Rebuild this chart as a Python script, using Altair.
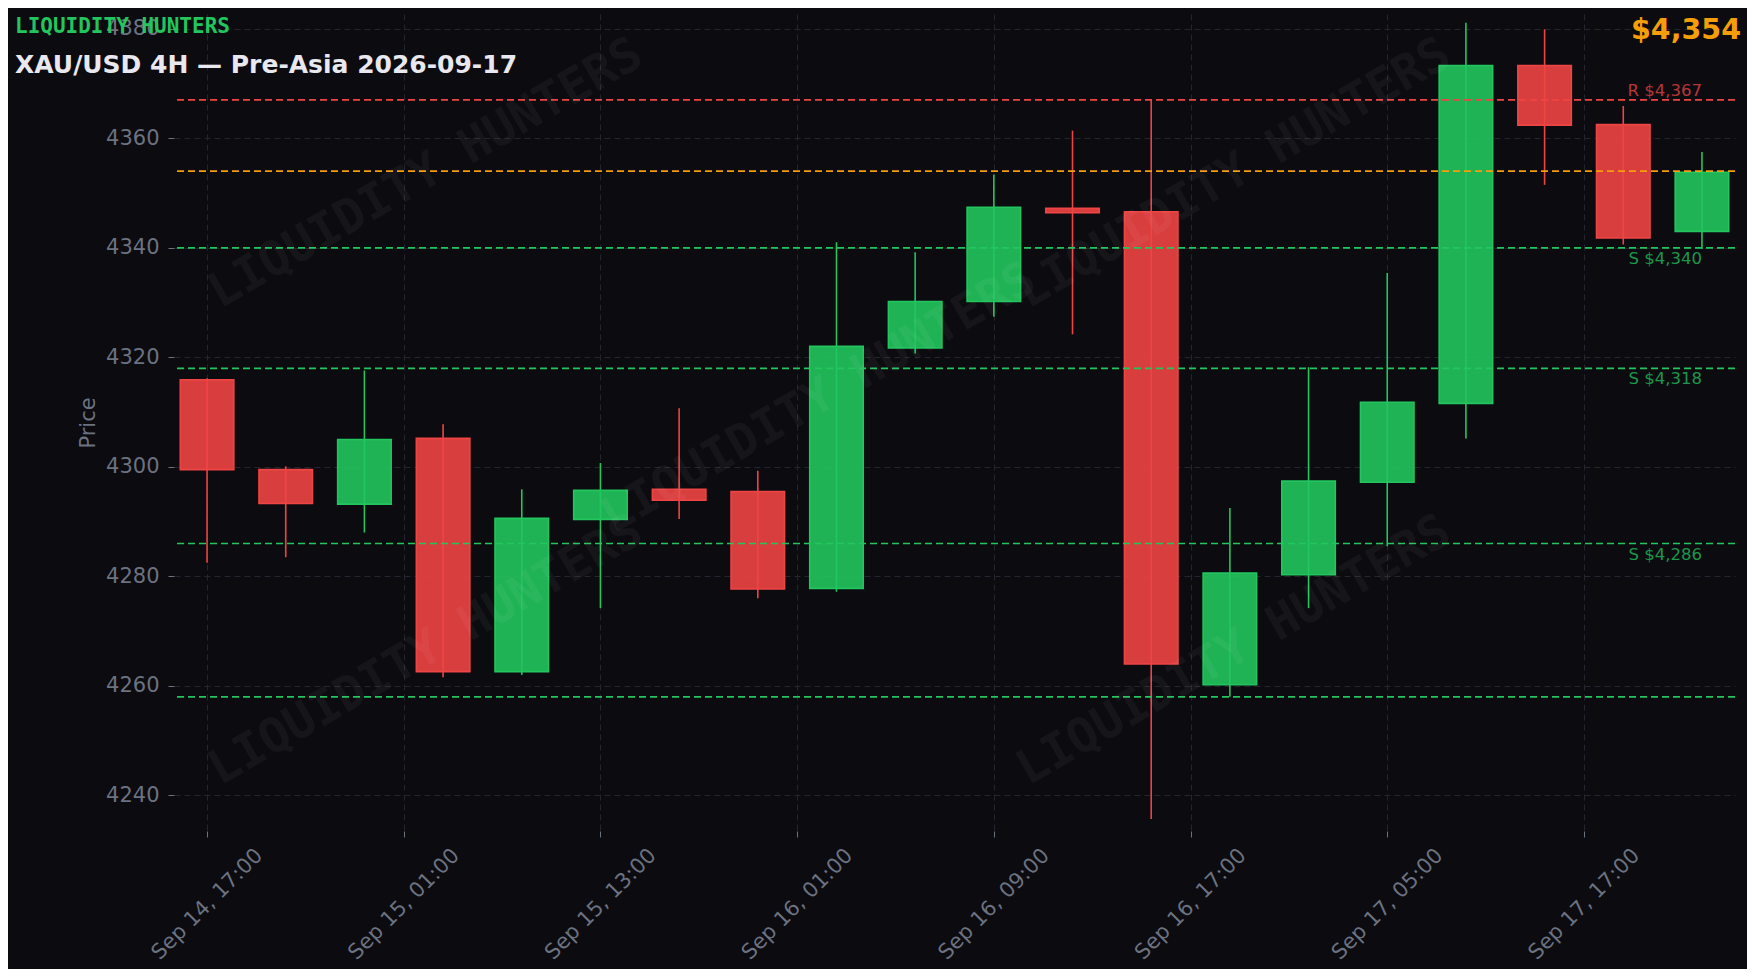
import json
import pandas as pd
import altair as alt

# ---------------- data ----------------
times = ["Sep 14, 17:00", "Sep 14, 21:00", "Sep 15, 01:00", "Sep 15, 05:00", "Sep 15, 09:00",
         "Sep 15, 13:00", "Sep 15, 17:00", "Sep 15, 21:00", "Sep 16, 01:00", "Sep 16, 05:00",
         "Sep 16, 09:00", "Sep 16, 13:00", "Sep 16, 17:00", "Sep 16, 21:00", "Sep 17, 01:00",
         "Sep 17, 05:00", "Sep 17, 09:00", "Sep 17, 13:00", "Sep 17, 17:00", "Sep 17, 21:00"]
opens = [4315.9, 4299.5, 4293.2, 4305.2, 4262.6, 4290.4, 4295.9, 4295.5, 4277.8, 4321.7,
         4330.2, 4347.2, 4346.6, 4260.2, 4280.3, 4297.2, 4311.6, 4373.3, 4362.5, 4343.0]
closes = [4299.5, 4293.3, 4305.0, 4262.6, 4290.6, 4295.7, 4293.9, 4277.7, 4322.0, 4330.2,
          4347.4, 4346.4, 4264.0, 4280.6, 4297.4, 4311.8, 4373.3, 4362.4, 4341.8, 4353.8]
highs = [4316.2, 4300.1, 4317.6, 4307.8, 4295.9, 4300.7, 4310.7, 4299.3, 4341.0, 4339.2,
         4353.4, 4361.4, 4367.2, 4292.5, 4318.2, 4335.4, 4381.1, 4379.9, 4365.9, 4357.5]
lows = [4282.5, 4283.5, 4288.0, 4261.6, 4262.0, 4274.2, 4290.5, 4276.0, 4277.2, 4320.7,
        4327.4, 4324.2, 4235.7, 4258.0, 4274.2, 4285.5, 4305.2, 4351.5, 4340.6, 4339.8]

tick_values = [0, 2.5, 5, 7.5, 10, 12.5, 15, 17.5]
tick_labels = ["Sep 14, 17:00", "Sep 15, 01:00", "Sep 15, 13:00", "Sep 16, 01:00",
               "Sep 16, 09:00", "Sep 16, 17:00", "Sep 17, 05:00", "Sep 17, 17:00"]
y_ticks = [4240, 4260, 4280, 4300, 4320, 4340, 4360, 4380]

levels = [4367, 4354, 4340, 4318, 4286, 4258]
level_kinds = ["R", "P", "S", "S", "S", "S"]
level_labels = ["R $4,367", "", "S $4,340", "S $4,318", "S $4,286", ""]

brand = "LIQUIDITY HUNTERS"
title_text = "XAU/USD 4H \u2014 Pre-Asia 2026-09-17"

# ---------------- styling ----------------
BG = "#0b0b10"
GREEN = "#22c55e"
RED = "#ef4444"
ORANGE = "#f59e0b"
MUTED = "#6b7280"
GRID = "#25252f"
FONT = "DejaVu Sans"
MONO = "DejaVu Sans Mono"

W, H = 1561, 817
HALF = 0.34
TICK_FS = 21

df = pd.DataFrame({"i": list(range(len(opens))), "time": times, "open": opens,
                   "close": closes, "high": highs, "low": lows})
df["dir"] = ["up" if c >= o else "down" for o, c in zip(opens, closes)]

lv = pd.DataFrame({"level": levels, "kind": level_kinds, "label": level_labels})
lv["lx"] = len(closes) - 1

xscale = alt.Scale(domain=[-0.42, 19.42], nice=False, zero=False)
yscale = alt.Scale(domain=[4233.5, 4382.7], nice=False, zero=False)
cscale = alt.Scale(domain=["up", "down"], range=[GREEN, RED])
lscale = alt.Scale(domain=["R", "P", "S"], range=[RED, ORANGE, GREEN])

label_expr = f"{json.dumps(tick_labels)}[indexof({json.dumps(tick_values)}, datum.value)]"

x_axis = alt.Axis(values=tick_values, labelExpr=label_expr, labelAngle=315,
                  labelAlign="center", labelBaseline="middle", labelPadding=67,
                  labelFontSize=TICK_FS, labelColor=MUTED, labelFont=FONT, labelFlush=False,
                  labelOverlap=False, tickColor=MUTED, tickSize=6, tickWidth=1,
                  domain=False, grid=True, gridColor=GRID, gridDash=[6, 4], gridWidth=1,
                  title=None)
y_axis = alt.Axis(values=y_ticks, format="d", labelFontSize=TICK_FS, labelColor=MUTED,
                  labelFont=FONT, labelPadding=9, labelFlush=False, tickColor=MUTED,
                  tickSize=6, tickWidth=1, domain=False, grid=True, gridColor=GRID,
                  gridDash=[6, 4], gridWidth=1, title="Price", titleColor=MUTED,
                  titleFont=FONT, titleFontSize=21, titleFontWeight="normal",
                  titleAngle=270, titleX=-86, titleY=H / 2, titleAlign="center",
                  titleBaseline="middle")

base = alt.Chart(df)

wicks = base.mark_rule(strokeWidth=1.6).encode(
    x=alt.X("i:Q", scale=xscale, axis=x_axis),
    y=alt.Y("low:Q", scale=yscale, axis=y_axis),
    y2="high:Q",
    stroke=alt.Stroke("dir:N", scale=cscale, legend=None),
)

bodies = base.transform_calculate(
    x0=f"datum.i - {HALF}", x1=f"datum.i + {HALF}"
).mark_bar(fillOpacity=0.9, strokeWidth=1.6).encode(
    x=alt.X("x0:Q", scale=xscale, axis=x_axis),
    x2="x1:Q",
    y=alt.Y("open:Q", scale=yscale, axis=y_axis),
    y2="close:Q",
    fill=alt.Fill("dir:N", scale=cscale, legend=None),
    stroke=alt.Stroke("dir:N", scale=cscale, legend=None),
)

lines = alt.Chart(lv).mark_rule(strokeDash=[7, 4], strokeWidth=1.7).encode(
    y=alt.Y("level:Q", scale=yscale, axis=y_axis),
    stroke=alt.Stroke("kind:N", scale=lscale, legend=None),
)

r_labels = alt.Chart(lv).transform_filter("datum.kind == 'R' && datum.label != ''").mark_text(
    align="right", baseline="bottom", dy=-1, fontSize=16.5, font=FONT, opacity=0.75
).encode(
    x=alt.X("lx:Q", scale=xscale, axis=x_axis),
    y=alt.Y("level:Q", scale=yscale, axis=y_axis),
    text="label:N",
    fill=alt.Fill("kind:N", scale=lscale, legend=None),
)
s_labels = alt.Chart(lv).transform_filter("datum.kind == 'S' && datum.label != ''").mark_text(
    align="right", baseline="top", dy=3, fontSize=16.5, font=FONT, opacity=0.75
).encode(
    x=alt.X("lx:Q", scale=xscale, axis=x_axis),
    y=alt.Y("level:Q", scale=yscale, axis=y_axis),
    text="label:N",
    fill=alt.Fill("kind:N", scale=lscale, legend=None),
)

one = alt.Data(values=[{"k": 1}])

# faint diagonal watermarks (pixel positions inside the plot area)
wm_positions = [(252, 160), (645, 385), (252, 637), (1060, 160), (1060, 637)]
watermarks = [
    alt.Chart(one).mark_text(
        text=brand, angle=330, fontSize=48, font=MONO, fontWeight="bold",
        color="#ffffff", opacity=0.04, align="center", baseline="middle"
    ).encode(x=alt.value(px), y=alt.value(py))
    for px, py in wm_positions
]

brand_txt = alt.Chart(one).mark_text(
    text=brand, align="left", baseline="alphabetic", fontSize=21, font=MONO,
    fontWeight="bold", color=GREEN
).encode(x=alt.value(-159), y=alt.value(18.5))

title_txt = alt.Chart(one).mark_text(
    text=title_text, align="left", baseline="alphabetic", fontSize=25, font=FONT,
    fontWeight="bold", color="#e8e8ee"
).encode(x=alt.value(-159), y=alt.value(59))

price_txt = alt.Chart(one).mark_text(
    text=f"${closes[-1]:,.0f}", align="right", baseline="alphabetic", fontSize=28.5,
    font=FONT, fontWeight="bold", color=ORANGE
).encode(x=alt.value(1567), y=alt.value(24.5))

chart = alt.layer(
    wicks, bodies, lines, r_labels, s_labels, *watermarks, brand_txt, title_txt, price_txt
).resolve_scale(
    stroke="independent", fill="independent"
).properties(
    width=W, height=H, background=BG,
    padding={"left": 166, "top": 6, "right": 12, "bottom": 138},
    autosize=alt.AutoSizeParams(type="none"),
).configure_view(stroke=None)

chart.save("out.html", embed_options={"renderer": "svg", "actions": False})
